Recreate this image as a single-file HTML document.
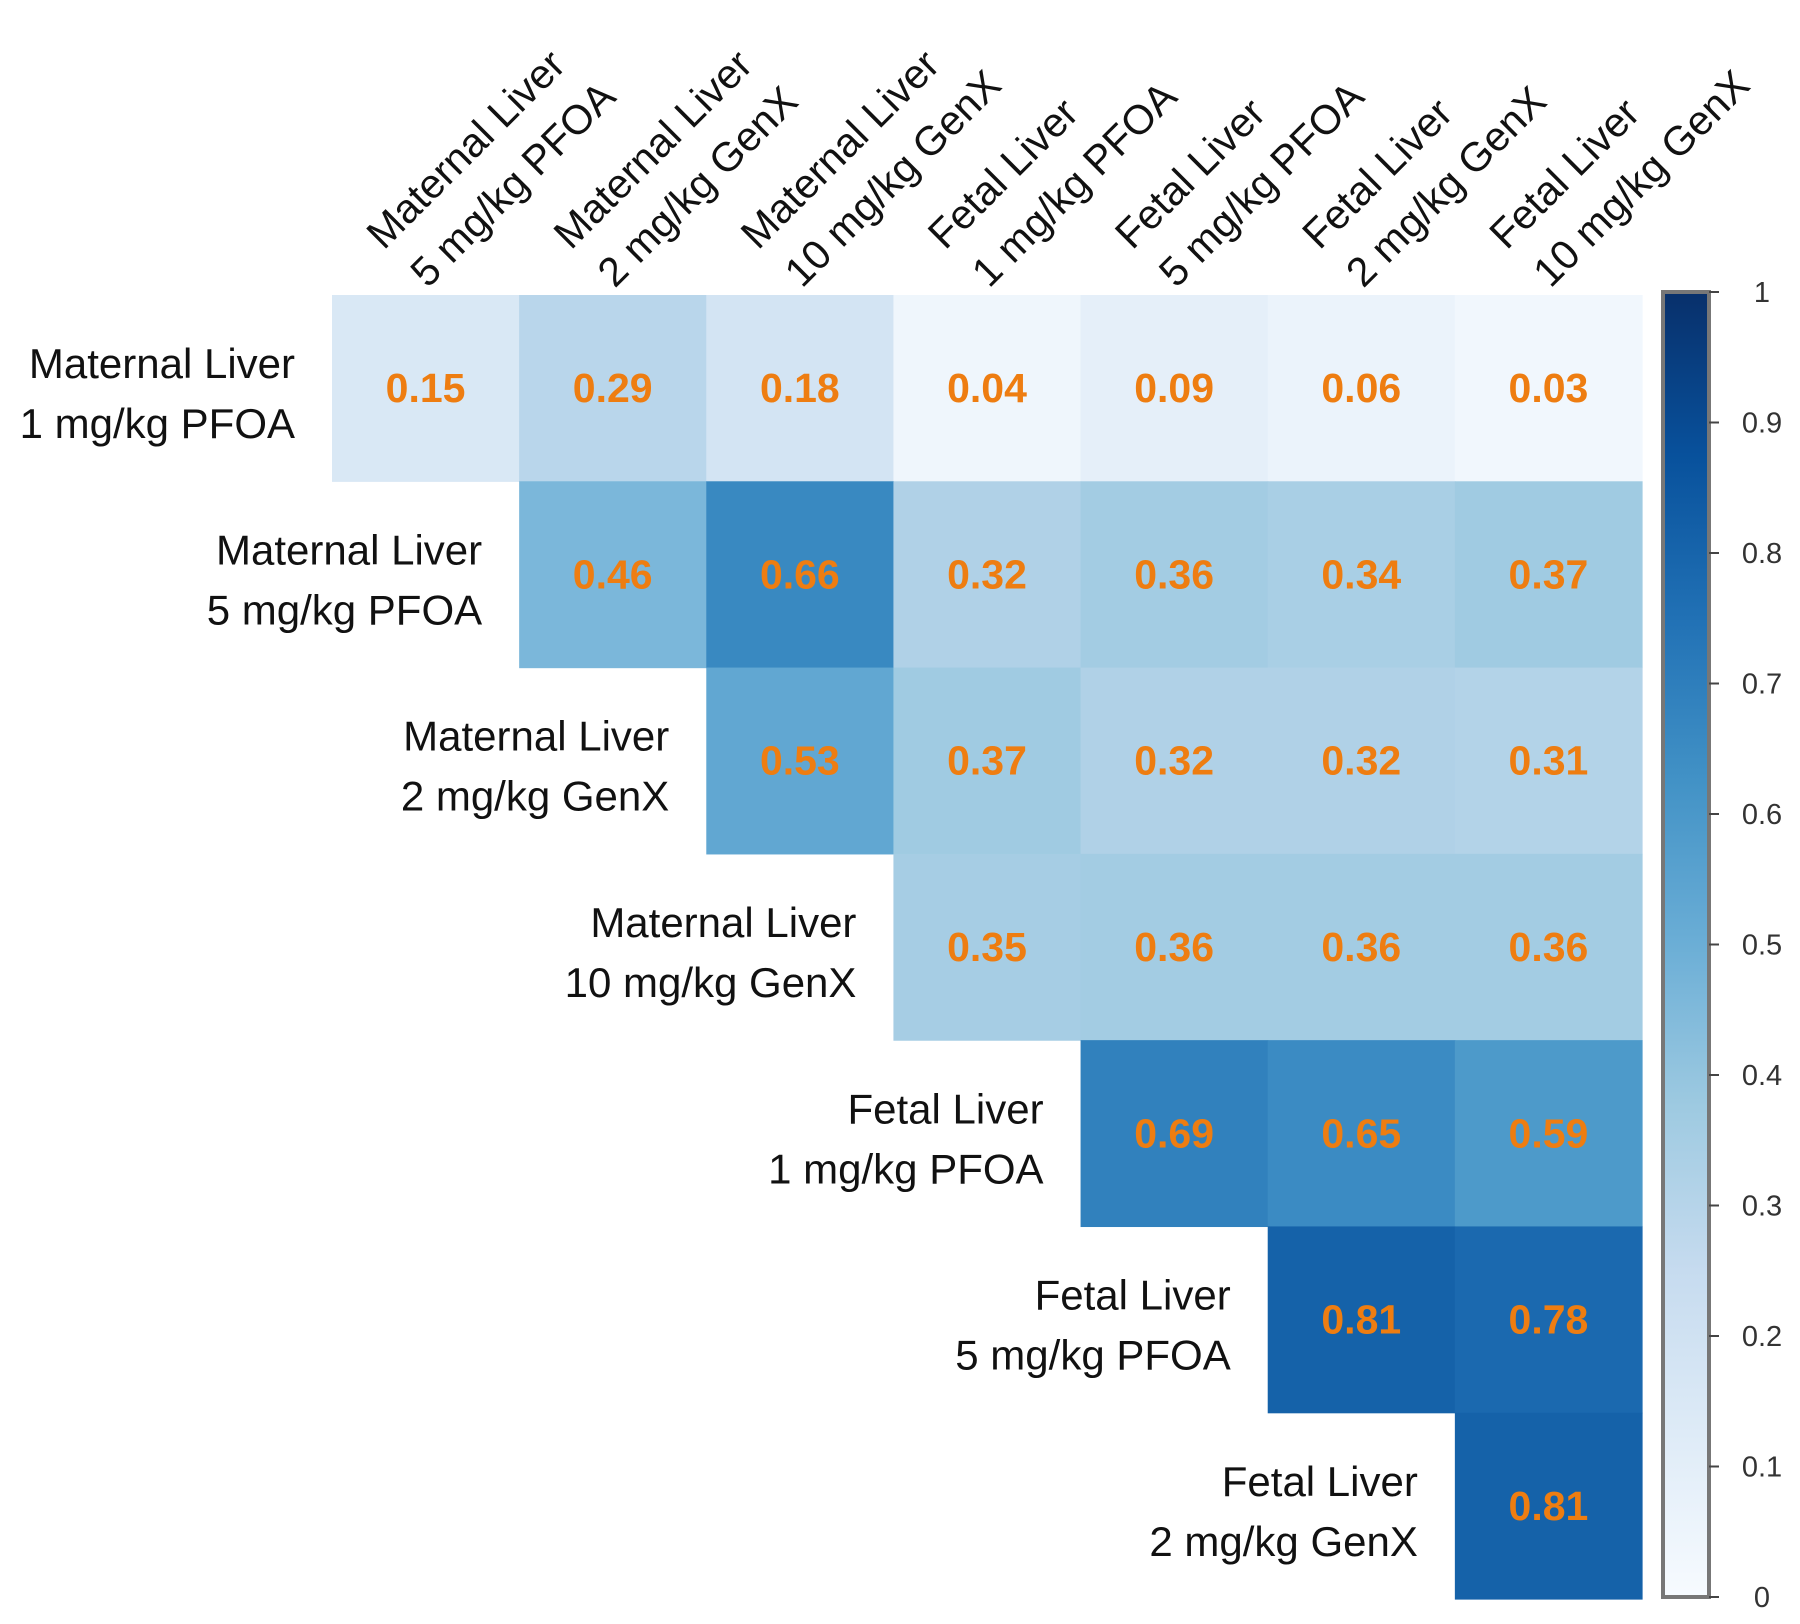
<!DOCTYPE html>
<html><head><meta charset="utf-8"><style>
html,body{margin:0;padding:0;background:#fff;}
svg{display:block;}
</style></head><body>
<svg id="chart" width="1800" height="1624" viewBox="0 0 1800 1624" xmlns="http://www.w3.org/2000/svg">
<g id="cells"></g>
<g id="rowlabels"></g>
<g id="collabels"></g>
<g id="cbar"></g>
</svg>
<script>
const rowLine1 = ["Maternal Liver","Maternal Liver","Maternal Liver","Maternal Liver","Fetal Liver","Fetal Liver","Fetal Liver"];
const rowLine2 = ["1 mg/kg PFOA","5 mg/kg PFOA","2 mg/kg GenX","10 mg/kg GenX","1 mg/kg PFOA","5 mg/kg PFOA","2 mg/kg GenX"];
const colLine1 = ["Maternal Liver","Maternal Liver","Maternal Liver","Fetal Liver","Fetal Liver","Fetal Liver","Fetal Liver"];
const colLine2 = ["5 mg/kg PFOA","2 mg/kg GenX","10 mg/kg GenX","1 mg/kg PFOA","5 mg/kg PFOA","2 mg/kg GenX","10 mg/kg GenX"];
const row0 = [0.15,0.29,0.18,0.04,0.09,0.06,0.03];
const row1 = [0.46,0.66,0.32,0.36,0.34,0.37];
const row2 = [0.53,0.37,0.32,0.32,0.31];
const row3 = [0.35,0.36,0.36,0.36];
const row4 = [0.69,0.65,0.59];
const row5 = [0.81,0.78];
const row6 = [0.81];
const cbarTicks = [0,0.1,0.2,0.3,0.4,0.5,0.6,0.7,0.8,0.9,1];
const cbarTickLabels = ["0","0.1","0.2","0.3","0.4","0.5","0.6","0.7","0.8","0.9","1"];

const NS="http://www.w3.org/2000/svg";
const rows=[row0,row1,row2,row3,row4,row5,row6];
const X0=332, X1=1642, Y0=295, Y1=1599, N=7;
const cw=(X1-X0)/N, ch=(Y1-Y0)/N;
const xPos=j=>X0+j*cw, yPos=i=>Y0+i*ch;
const stops=["#f7fbff","#deebf7","#c6dbef","#9ecae1","#6baed6","#4292c6","#2171b5","#08519c","#08306b"];
function hex(c){return [1,3,5].map(k=>parseInt(c.substr(k,2),16));}
function color(v){v=Math.max(0,Math.min(1,v));const t=v*8,i=Math.min(7,Math.floor(t)),f=t-i;const a=hex(stops[i]),b=hex(stops[i+1]);return "rgb("+a.map((x,k)=>Math.round(x+(b[k]-x)*f)).join(",")+")";}
function mk(tag,attrs,parent){const e=document.createElementNS(NS,tag);for(const k in attrs)e.setAttribute(k,attrs[k]);parent.appendChild(e);return e;}
const gc=document.getElementById('cells');
rows.forEach((r,i)=>{r.forEach((v,k)=>{const j=i+k;
 const rc=mk('rect',{x:xPos(j),y:yPos(i),width:cw+0.6,height:ch+0.6,fill:color(v)},gc);
 
 
 const t=mk('text',{x:xPos(j)+cw/2,y:yPos(i)+ch/2+14,'text-anchor':'middle','font-family':'Liberation Sans, Arial, sans-serif','font-weight':'bold','font-size':41,fill:'#ee7d11'},gc);
 t.textContent=v.toFixed(2);
 
 
});});
const gr=document.getElementById('rowlabels');
rowLine1.forEach((l,i)=>{const cx=xPos(i)-37, cy=yPos(i)+ch/2+6;
 const t=mk('text',{x:cx,y:cy-16,'text-anchor':'end','font-family':'Liberation Sans, Arial, sans-serif','font-size':42,fill:'#111'},gr);
 t.textContent=l;
 
 
 const t2=mk('text',{x:cx,y:cy+44,'text-anchor':'end','font-family':'Liberation Sans, Arial, sans-serif','font-size':42,fill:'#111'},gr);
 t2.textContent=rowLine2[i];
 
 
});
const gcl=document.getElementById('collabels');
colLine1.forEach((l,j)=>{const sx=xPos(j)+cw/2+2, sy=Y0-6;
 const g=mk('g',{transform:'translate('+sx+','+sy+') rotate(-45)'},gcl);
 
 
 const t=mk('text',{x:-4,y:-58,'font-family':'Liberation Sans, Arial, sans-serif','font-size':41,fill:'#111'},g);
 t.textContent=l;
 
 
 const t2=mk('text',{x:0,y:0,'font-family':'Liberation Sans, Arial, sans-serif','font-size':41,fill:'#111'},g);
 t2.textContent=colLine2[j];
 
 
});
const gb=document.getElementById('cbar');
const CX=1663, CW=46, CY0=292, CY1=1597;
const cy=v=>CY1-v*(CY1-CY0);
const defs=mk('defs',{},gb);
const lg=mk('linearGradient',{id:'cg',x1:0,y1:1,x2:0,y2:0},defs);
stops.forEach((s,i)=>mk('stop',{offset:(i/8),'stop-color':s},lg));
const bar=mk('rect',{x:CX,y:CY0,width:CW,height:CY1-CY0,fill:'url(#cg)',stroke:'#777','stroke-width':4},gb);


cbarTicks.forEach((v,i)=>{
 const ln=mk('line',{x1:CX+CW,x2:CX+CW+10,y1:cy(v),y2:cy(v),stroke:'#444','stroke-width':2},gb);
 
 
 const t=mk('text',{x:1762,y:cy(v)+10,'text-anchor':'middle','font-family':'Liberation Sans, Arial, sans-serif','font-size':29,fill:'#333'},gb);
 t.textContent=cbarTickLabels[i];
 
 
});
</script>
</body></html>
